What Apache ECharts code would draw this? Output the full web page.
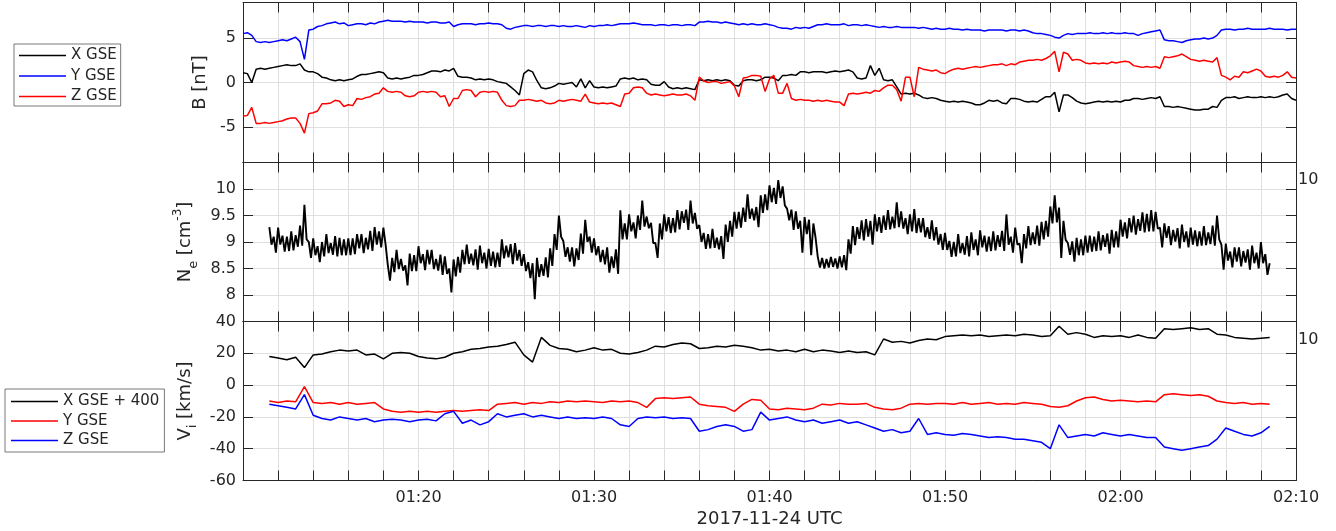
<!DOCTYPE html>
<html><head><meta charset="utf-8">
<script src="https://cdn.jsdelivr.net/npm/echarts@6/dist/echarts.min.js"></script>
<style>html,body{margin:0;padding:0;background:#fff}#c{width:1336px;height:531px}</style>
</head><body><div id="c"></div>
<script>
// time axis: minutes after 01:10 UTC
const T0_MIN = 70;
const B_START = 0, B_STEP = 0.25;
const NE_START = 1.5, NE_STEP = 0.125;
const V_START = 1.5, V_STEP = 0.5;

const BX = [1.1,1.0,0.0,1.5, 1.6,1.5,1.6,1.7, 1.8,1.9,2.0,1.9, 1.9,2.1,1.4,1.2, 1.2,1.0,0.6,0.5,
 0.3,0.2,0.3,0.2, 0.3,0.4,0.7,0.9, 0.9,1.0,1.1,1.2, 1.1,0.5,0.4,0.5, 0.4,0.5,0.6,0.8,
 0.8,0.9,1.1,1.3, 1.3,1.2,1.4,1.3, 1.6,0.7,0.6,0.6, 0.5,0.3,0.4,0.3, 0.4,0.3,0.1,0.0,
 -0.1,-0.5,-0.9,-1.4, 1.0,1.4,1.2,0.2, -0.6,-0.7,-0.6,-0.4, -0.1,-0.2,-0.1,0.0, -0.5,0.4,-0.6,0.2,
 -0.5,-0.6,-0.5,-0.6, -0.5,-0.4,0.4,0.5, 0.4,0.5,0.3,0.4, 0.3,-0.2,-0.3,-0.3, 0.1,-0.5,-0.7,-0.6,
 -0.7,-0.6,-0.7,-0.8, 0.3,0.2,0.3,0.2, 0.3,0.2,0.3,0.2, -0.3,-0.4,0.2,0.3, 0.3,0.2,0.3,0.6,
 0.6,0.5,0.2,0.8, 0.8,0.9,0.8,1.2, 1.2,1.1,1.2,1.2, 1.2,1.1,1.2,1.3, 1.2,1.3,1.4,1.2,
 0.5,0.4,0.5,1.9, 0.8,1.6,0.3,0.2, 0.3,-0.5,-1.3,-1.2, -1.3,-1.2,-1.4,-1.7, -1.8,-1.7,-1.8,-2.0,
 -2.1,-2.2,-2.1,-2.2, -2.1,-2.2,-2.3,-2.5, -2.5,-2.3,-2.0,-2.1, -2.0,-2.3,-2.4,-1.8, -1.8,-1.9,-2.1,-2.2,
 -2.1,-2.2,-1.9,-1.6, -1.6,-1.1,-3.3,-1.4, -1.4,-1.7,-2.1,-2.3, -2.4,-2.3,-2.2,-2.1, -2.2,-2.1,-2.2,-2.1,
 -2.2,-2.0,-2.0,-1.8, -1.8,-1.9,-1.8,-1.7, -1.8,-1.6,-2.7,-2.7, -2.8,-2.7,-2.8,-2.9, -3.0,-3.1,-3.1,-3.0,
 -3.0,-2.7,-2.8,-2.0, -1.7,-1.7,-1.6,-1.8, -1.7,-1.6,-1.7,-1.7, -1.6,-1.7,-1.6,-1.7, -1.6,-1.4,-1.3,-1.8,
 -2.0];

const BY = [5.5,5.6,5.3,4.6, 4.5,4.6,4.5,4.6, 4.7,4.8,4.7,4.9, 5.1,4.6,2.6,5.9, 6.0,6.3,6.4,6.6,
 6.7,6.8,6.6,6.7, 6.4,6.5,6.6,6.6, 6.5,6.7,6.6,6.8, 6.9,7.0,6.9,6.9, 6.9,6.8,6.9,6.8,
 6.8,6.8,6.7,6.8, 6.8,6.7,6.7,6.8, 6.3,6.5,6.6,6.6, 6.6,6.5,6.6,6.6, 6.7,6.6,6.6,6.5,
 6.1,6.0,6.2,6.3, 6.4,6.4,6.3,6.4, 6.4,6.3,6.4,6.4, 6.3,6.4,6.3,6.3, 6.4,6.3,6.2,6.4,
 6.3,6.4,6.4,6.5, 6.4,6.5,6.6,6.6, 6.6,6.7,6.6,6.5, 6.5,6.5,6.4,6.5, 6.5,6.4,6.5,6.5,
 6.4,6.5,6.5,6.4, 6.8,6.8,6.9,6.8, 6.8,6.7,6.8,6.7, 6.6,6.5,6.6,6.5, 6.6,6.5,6.5,6.6,
 6.5,6.4,6.2,6.1, 6.1,6.0,6.2,6.1, 6.2,6.1,6.3,6.5, 6.5,6.6,6.5,6.5, 6.5,6.6,6.4,6.5,
 6.5,6.4,6.5,6.4, 6.3,6.2,6.3,6.2, 6.2,6.3,6.2,6.2, 6.2,6.2,6.1,6.2, 6.1,6.0,6.1,6.0,
 6.0,6.1,6.0,6.0, 5.9,6.0,5.9,5.9, 5.9,5.8,5.9,5.9, 5.9,5.9,5.8,5.9, 5.9,5.8,5.9,5.8,
 5.6,5.5,5.5,5.4, 5.3,5.1,5.0,5.3, 5.5,5.4,5.5,5.5, 5.5,5.6,5.5,5.5, 5.6,5.5,5.6,5.5,
 5.5,5.6,5.5,5.5, 5.3,5.5,5.6,5.7, 5.8,5.9,4.8,4.7, 4.7,4.6,4.5,4.7, 4.8,4.9,4.9,5.0,
 4.9,5.0,5.3,5.9, 6.0,6.0,5.9,6.0, 6.0,6.1,6.0,6.0, 6.0,6.0,6.1,6.0, 6.0,6.0,5.9,6.0,
 6.0];

const BZ = [-3.8,-3.7,-2.8,-4.6, -4.6,-4.5,-4.6,-4.5, -4.4,-4.3,-4.1,-4.0, -4.0,-4.6,-5.7,-3.5, -3.4,-3.2,-2.4,-2.4,
 -2.3,-2.0,-2.1,-2.7, -2.5,-2.6,-1.8,-1.9, -1.7,-1.6,-1.3,-1.2, -0.6,-1.0,-1.1,-1.0, -1.1,-1.5,-1.6,-1.5,
 -1.1,-1.0,-1.1,-1.0, -1.1,-1.6,-1.5,-2.7, -1.8,-1.8,-0.9,-0.8, -0.9,-1.6,-1.1,-1.0, -1.1,-1.0,-1.1,-2.0,
 -2.6,-2.7,-2.6,-2.0, -2.0,-1.9,-2.0,-2.1, -2.0,-2.3,-2.4,-2.3, -2.0,-2.1,-2.0,-1.9, -2.0,-2.1,-1.3,-2.2,
 -2.3,-2.4,-2.3,-2.4, -2.3,-2.5,-2.7,-1.3, -1.2,-0.6,-0.5,-0.6, -1.2,-1.4,-1.3,-1.4, -1.5,-1.4,-1.3,-1.4,
 -1.4,-1.3,-1.5,-2.0, 0.6,0.2,0.0,0.1, 0.1,-0.1,0.0,0.1, -0.4,-1.6,0.5,0.6, 0.8,0.8,0.7,-1.0,
 0.4,0.8,-1.2,-1.2, -0.1,-1.8,-2.0,-1.9, -2.0,-2.0,-2.1,-2.0, -2.1,-2.0,-2.1,-2.2, -2.2,-2.6,-1.3,-1.2,
 -1.3,-1.2,-1.1,-1.2, -0.9,-1.0,-0.6,-0.3, -0.3,-0.8,-2.1,0.6, 0.6,-1.6,1.7,1.5, 1.4,1.3,1.4,1.1,
 1.0,1.3,1.5,1.6, 1.5,1.6,1.7,1.8, 1.7,1.8,1.9,2.0, 2.0,2.1,1.9,2.1, 2.0,2.3,2.4,2.5,
 2.5,2.6,2.5,2.7, 3.0,3.5,1.2,3.4, 3.2,2.5,2.6,2.5, 2.2,2.1,2.2,2.1, 2.2,2.1,2.3,2.2,
 2.3,2.4,2.3,1.9, 1.8,1.7,1.8,1.7, 1.8,1.6,2.9,2.8, 2.9,3.0,3.2,2.9, 2.6,2.5,2.4,2.5,
 2.4,2.3,2.8,0.8, 0.6,0.3,0.7,0.6, 1.2,1.1,1.3,1.5, 1.3,0.7,0.6,0.7, 0.6,0.8,1.2,0.6,
 0.5];

const NE = [9.28,8.95, 9.10,8.80, 9.27,8.95, 9.12,8.82, 9.10,8.83, 9.20,8.84, 9.13,8.91, 9.31,8.93,
 9.70,9.05, 9.00,8.70, 9.07,8.75, 8.92,8.62, 9.00,8.73, 9.15,8.79, 8.98,8.76, 9.11,8.73,
 9.08,8.75, 9.05,8.75, 9.07,8.75, 9.07,8.77, 9.15,8.88, 9.15,8.79, 9.08,8.86, 9.21,8.83,
 9.28,8.95, 9.20,8.90, 9.27,8.95, 8.57,8.27, 8.70,8.43, 8.85,8.49, 8.68,8.46, 8.56,8.18,
 8.78,8.45, 8.75,8.45, 8.92,8.60, 8.77,8.47, 8.85,8.58, 8.85,8.49, 8.68,8.46, 8.76,8.38,
 8.73,8.40, 8.50,8.05, 8.67,8.35, 8.72,8.42, 8.85,8.58, 8.95,8.59, 8.78,8.56, 8.86,8.48,
 8.93,8.60, 8.80,8.50, 8.87,8.55, 8.82,8.52, 8.80,8.53, 9.05,8.69, 8.93,8.71, 8.96,8.58,
 8.98,8.65, 8.85,8.55, 8.77,8.45, 8.62,8.32, 8.60,7.92, 8.70,8.34, 8.58,8.36, 8.71,8.33,
 8.88,8.55, 9.15,8.85, 9.50,9.10, 9.02,8.72, 8.90,8.63, 8.90,8.54, 8.88,8.66, 9.16,8.78,
 9.42,9.00, 9.10,8.80, 9.07,8.75, 8.92,8.62, 8.85,8.58, 8.90,8.42, 8.73,8.51, 8.86,8.40,
 9.60,9.05, 9.35,9.05, 9.52,9.20, 9.37,9.07, 9.50,9.23, 9.78,9.29, 9.48,9.26, 9.36,8.98,
 8.98,8.70, 9.35,9.05, 9.52,9.20, 9.47,9.17, 9.45,9.18, 9.60,9.24, 9.58,9.36, 9.61,9.23,
 9.78,9.35, 9.55,9.25, 9.32,9.00, 9.17,8.87, 9.15,8.88, 9.25,8.89, 9.08,8.86, 9.11,8.68,
 9.33,9.00, 9.40,9.10, 9.57,9.25, 9.57,9.27, 9.65,9.38, 9.90,9.44, 9.63,9.41, 9.66,9.28,
 9.88,9.55, 9.90,9.60, 10.07,9.75, 10.02,9.72, 10.17,9.83, 10.05,9.69, 9.63,9.41, 9.61,9.23,
 9.58,9.25, 9.40,8.80, 9.47,9.15, 9.42,8.75, 9.35,9.08, 8.72,8.52, 8.70,8.50, 8.68,8.52,
 8.72,8.53, 8.69,8.50, 8.73,8.52, 8.75,8.47, 9.05,8.78, 9.30,8.94, 9.28,9.06, 9.41,9.03,
 9.43,9.10, 9.40,8.95, 9.52,9.20, 9.47,9.17, 9.50,9.23, 9.60,9.24, 9.48,9.26, 9.75,9.28,
 9.58,9.25, 9.45,9.15, 9.52,9.20, 9.62,9.17, 9.45,9.18, 9.45,9.09, 9.28,9.06, 9.41,9.03,
 9.28,8.95, 9.15,8.85, 9.17,8.85, 9.02,8.72, 9.00,8.73, 9.15,8.79, 8.98,8.76, 9.11,8.73,
 9.18,8.85, 9.05,8.75, 9.22,8.90, 9.12,8.82, 9.10,8.83, 9.20,8.84, 9.13,8.91, 9.21,8.83,
 9.52,8.95, 9.10,8.80, 9.27,8.95, 8.97,8.60, 9.15,8.88, 9.30,8.94, 9.18,8.96, 9.31,8.93,
 9.38,9.05, 9.40,9.10, 9.67,9.35, 9.88,9.37, 9.65,8.70, 9.40,9.04, 8.98,8.76, 9.01,8.63,
 9.08,8.75, 9.05,8.75, 9.12,8.80, 9.12,8.82, 9.10,8.83, 9.20,8.84, 9.13,8.91, 9.16,8.78,
 9.23,8.90, 9.20,8.90, 9.42,9.10, 9.37,9.07, 9.45,9.18, 9.50,9.14, 9.43,9.21, 9.56,9.18,
 9.53,9.20, 9.60,9.20, 9.57,9.25, 9.27,8.90, 9.35,9.08, 9.30,8.94, 9.23,9.01, 9.26,8.88,
 9.33,9.00, 9.20,8.90, 9.27,8.95, 9.22,8.92, 9.20,8.93, 9.30,8.94, 9.18,8.96, 9.31,8.93,
 9.50,9.05, 8.95,8.48, 8.97,8.65, 8.82,8.52, 8.90,8.63, 8.90,8.54, 8.83,8.61, 8.86,8.48,
 8.93,8.60, 8.80,8.50, 9.00,8.60, 8.77,8.38, 8.60];

const VX = [18,17,16,17.5,11,19,19.5,21,22,21.5,
 22,19,19.5,16.5,20,20.5,20,18,17,16.5,
 17.5,20,21,22.5,23,24,24.5,25.5,27,19,
 14.5,30,25,23,22.5,21,22,23.5,22,22.5,
 20,19.5,20.5,22,24.5,24,25.5,26.5,26,23,
 23.5,24.5,24,25,24.5,23.5,22,22.5,21.5,22,
 21,22.5,21,22,21.5,20.5,21.5,20.5,21,19,
 29,27,27.5,26.5,28,29,28.5,30.5,31,31.5,
 31,31.5,30.5,31,31.5,31,32,31.5,30.5,31,
 37,32,33,32,30,31,30.5,31,30,31.5,
 30,29.5,35.5,35,35.5,36,35,35.5,32,31.5,
 30,29.5,29,29.5,30];

const VY = [-10,-11,-10,-10.5,-1,-11,-11.5,-11,-12,-11,
 -12,-11.5,-11,-15,-16.5,-17,-16.5,-17,-16.5,-17,
 -16.5,-16,-16.5,-16,-15.5,-16,-12,-11.5,-11,-12,
 -11,-11.5,-10.5,-11,-10,-10.5,-10,-10.5,-11,-10,
 -10.5,-10,-11,-14,-8.5,-8,-8.5,-8,-7.5,-12,
 -13,-13.5,-14,-16.5,-12,-9,-9.5,-15,-15.5,-14.5,
 -15,-15.5,-14.5,-12,-12.5,-11.5,-12,-12,-11.5,-14,
 -15,-15.5,-14.5,-12,-11.5,-12,-11.5,-11.5,-12,-11,
 -12,-11.5,-11,-12,-11.5,-12,-11,-11.5,-12,-13.5,
 -14,-13,-10,-8,-7.5,-9,-10,-9.5,-10,-10.5,
 -10,-10.5,-6,-5.5,-6,-6.5,-6,-7,-10,-11,
 -11.5,-11,-12,-11.5,-12];

const VZ = [-12,-13,-14,-15,-6,-19,-21,-22,-20,-21,
 -22,-21,-23,-22,-21.5,-22,-23,-22,-21.5,-22.5,
 -18,-16.5,-24,-22,-25,-23,-18,-20,-19,-18,
 -20,-19,-20,-21,-20,-21,-20.5,-21,-20,-21,
 -25,-26,-21,-20,-20.5,-20,-21,-20.5,-21,-29,
 -28,-26,-25,-26,-29,-28,-17,-22,-21,-20,
 -22,-23,-22,-24,-23,-22,-24,-23,-25,-27,
 -29,-28,-30,-29,-21,-31,-30,-31,-31.5,-30.5,
 -31,-32,-33,-32.5,-33,-34,-34,-35,-36,-40,
 -25,-33,-32,-31,-32,-30,-31,-32,-31,-32,
 -33,-33,-39,-40,-41,-40,-39,-38,-34,-27,
 -29,-31,-32,-30,-26];

const B_NAMES = {Bx: 'X GSE', By: 'Y GSE', Bz: 'Z GSE'};
const V_NAMES = {Vx: 'X GSE + 400', Vy: 'Y GSE', Vz: 'Z GSE'};
const X_AXIS_TITLE = '2017-11-24 UTC';
const RIGHT_LABEL = '10';

const FONT = 'DejaVu Sans';
const TXT = '#262626';
const GRIDC = '#dfdfdf';

function pairs(start, step, vals) { return vals.map((v, i) => [start + i * step, v]); }
function fmtTime(v) {
  if (v === 0 || v % 10 !== 0) return '';
  const tot = T0_MIN + v, h = Math.floor(tot / 60), m = tot % 60;
  return String(h).padStart(2, '0') + ':' + String(m).padStart(2, '0');
}

const GRIDS = [
  {left: 243, top: 2.5, width: 1053, height: 160},
  {left: 243, top: 162.5, width: 1053, height: 159},
  {left: 243, top: 321.5, width: 1053, height: 159}
];

const AXLINE = {show: true, onZero: false, lineStyle: {color: TXT, width: 1}};
const TICK = {show: true, inside: true, length: 10, lineStyle: {color: TXT, width: 1}};

function xAx(gi, pos, withLabels) {
  return {
    type: 'value', gridIndex: gi, position: pos, min: 0, max: 60, interval: 2,
    axisLine: AXLINE, axisTick: TICK,
    splitLine: {show: pos === 'bottom', lineStyle: {color: GRIDC}},
    axisLabel: {show: withLabels, formatter: fmtTime, color: TXT, fontSize: 16, fontFamily: FONT, margin: 9},
    name: withLabels ? X_AXIS_TITLE : '', nameLocation: 'middle', nameGap: 30,
    nameTextStyle: {color: TXT, fontSize: 18, fontFamily: FONT}
  };
}
function yAx(gi, pos, opts, name, nameGap) {
  const left = pos === 'left';
  return Object.assign({
    type: 'value', gridIndex: gi, position: pos,
    axisLine: AXLINE, axisTick: TICK,
    splitLine: {show: left, lineStyle: {color: GRIDC}},
    axisLabel: {show: left, color: TXT, fontSize: 16, fontFamily: FONT, margin: 7},
    name: left ? name : '', nameLocation: 'middle', nameRotate: 90, nameGap: nameGap,
    nameTextStyle: {color: TXT, fontSize: 18, fontFamily: FONT,
      rich: {b: {fontSize: 18, fontFamily: FONT, color: TXT, lineHeight: 28},
             s: {fontSize: 13, fontFamily: FONT, color: TXT, verticalAlign: 'bottom'},
             p: {fontSize: 12, fontFamily: FONT, color: TXT, verticalAlign: 'top'}}}
  }, opts);
}
const yB = {min: -9, max: 9, minInterval: 5, maxInterval: 5, splitNumber: 4};
const yN = {min: 7.5, max: 10.5, interval: 0.5};
const yV = {min: -60, max: 40, interval: 20};

const yAxes = [
  yAx(0, 'left', yB, 'B [nT]', 21), yAx(0, 'right', yB),
  yAx(1, 'left', yN, '{b|N}{s|e}{b| [cm}{p|-3}{b|]}', 38), yAx(1, 'right', yN),
  yAx(2, 'left', yV, '{b|V}{s|i}{b| [km/s]}', 38), yAx(2, 'right', yV)
];
yAxes[0].axisLabel = Object.assign({}, yAxes[0].axisLabel, {showMinLabel: false, showMaxLabel: false});
yAxes[2].axisLabel = Object.assign({}, yAxes[2].axisLabel, {showMinLabel: false, showMaxLabel: false});

function line(name, xi, yi, data, color, width) {
  return {type: 'line', name, xAxisIndex: xi, yAxisIndex: yi, data, symbol: 'none', showSymbol: false,
    lineStyle: {color, width}, itemStyle: {color}, animation: false, silent: true};
}

const legendBase = {
  orient: 'vertical', icon: 'rect', itemWidth: 47, itemHeight: 1.6, selectedMode: false,
  backgroundColor: '#fff', borderColor: '#555', borderWidth: 0.8,
  textStyle: {color: TXT, fontSize: 15, fontFamily: FONT, lineHeight: 15}
};

const option = {
  animation: false,
  backgroundColor: '#fff',
  grid: GRIDS,
  xAxis: [xAx(0, 'bottom', false), xAx(0, 'top', false), xAx(1, 'bottom', false), xAx(1, 'top', false),
          xAx(2, 'bottom', true), xAx(2, 'top', false)],
  yAxis: yAxes,
  legend: [
    Object.assign({}, legendBase, {left: 14, top: 44, itemGap: 5.5, padding: [4, 4, 2, 5], data: ['Bx', 'By', 'Bz'],
      formatter: n => B_NAMES[n]}),
    Object.assign({}, legendBase, {left: 5, top: 389, itemGap: 4.5, padding: [5, 5, 4, 6], data: ['Vx', 'Vy', 'Vz'],
      formatter: n => V_NAMES[n]})
  ],
  graphic: [
    {type: 'text', left: 1298, top: 172, style: {text: RIGHT_LABEL, fontSize: 16, fontFamily: FONT, fill: TXT}},
    {type: 'text', left: 1298, top: 332, style: {text: RIGHT_LABEL, fontSize: 16, fontFamily: FONT, fill: TXT}}
  ],
  series: [
    line('Bx', 0, 0, pairs(B_START, B_STEP, BX), '#000000', 1.5),
    line('By', 0, 0, pairs(B_START, B_STEP, BY), '#0000ff', 1.5),
    line('Bz', 0, 0, pairs(B_START, B_STEP, BZ), '#ff0000', 1.5),
    line('Ne', 2, 2, pairs(NE_START, NE_STEP, NE), '#000000', 1.9),
    line('Vx', 4, 4, pairs(V_START, V_STEP, VX), '#000000', 1.5),
    line('Vy', 4, 4, pairs(V_START, V_STEP, VY), '#ff0000', 1.5),
    line('Vz', 4, 4, pairs(V_START, V_STEP, VZ), '#0000ff', 1.5)
  ]
};
const chart = echarts.init(document.getElementById('c'), null, {renderer: 'canvas'});
chart.setOption(option);
</script></body></html>
